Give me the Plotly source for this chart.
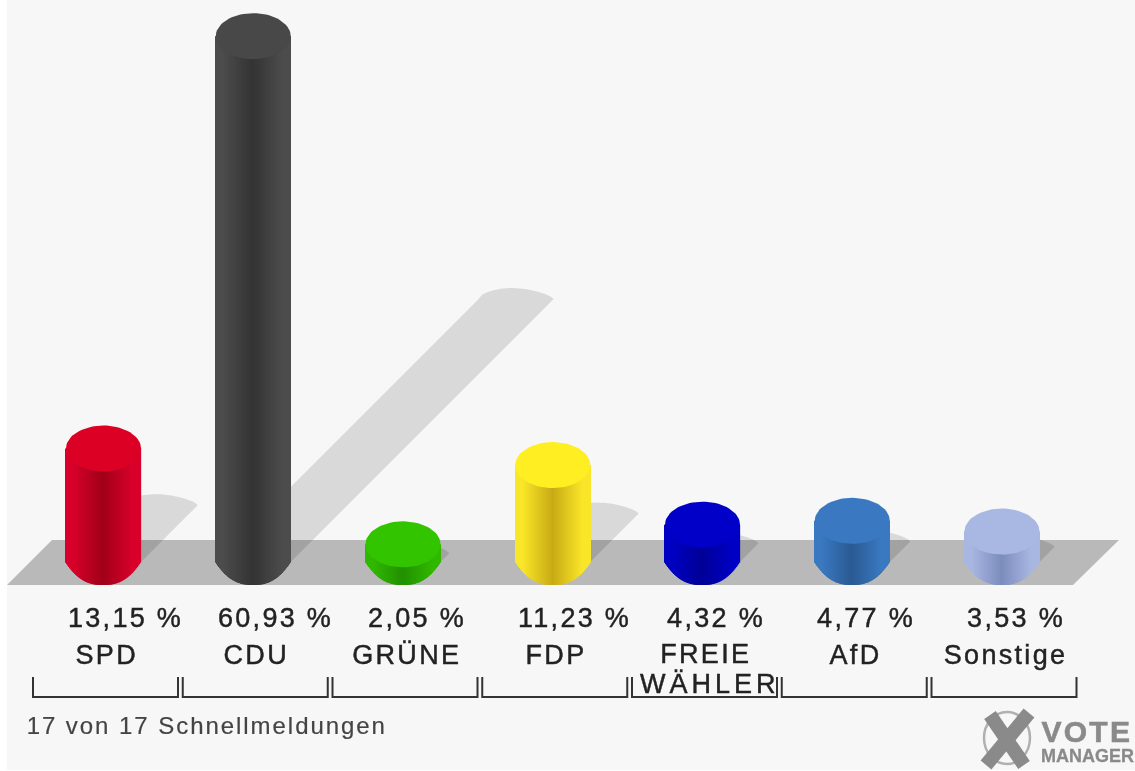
import math
import plotly.graph_objects as go

# ---- data ----
parties = ["SPD", "CDU", "GRÜNE", "FDP", "FREIE<br>WÄHLER", "AfD", "Sonstige"]
values = [13.15, 60.93, 2.05, 11.23, 4.32, 4.77, 3.53]
value_labels = ["13,15 %", "60,93 %", "2,05 %", "11,23 %", "4,32 %", "4,77 %", "3,53 %"]
top_colors = ["#dc0024", "#484848", "#33c400", "#ffee22", "#0000c8", "#3a79c2", "#a9b8e3"]
edge_colors = ["#d8002a", "#4c4c4c", "#30b800", "#fae628", "#0000c4", "#3a78c0", "#a8b6e2"]
dark_colors = ["#a00018", "#333333", "#229000", "#c8aa14", "#000096", "#2a5a94", "#7c8cbc"]
footer = "17 von 17 Schnellmeldungen"

# ---- canvas and scale ----
W, H = 1135, 771
PX_X = 149.75     # px per category
PX_Y = 8.63       # px per percentage point
X0, Y0 = 103.5, 562  # px of first category / of value 0
RX, RY = 37.5 / PX_X, 23 / PX_Y


def dx(px):
    return (px - X0) / PX_X


def dy(px):
    return (Y0 - px) / PX_Y


def hexrgb(h):
    return [int(h[i:i + 2], 16) for i in (1, 3, 5)]


def mix(a, b, t):
    a, b = hexrgb(a), hexrgb(b)
    return "rgb(%d,%d,%d)" % tuple(round(p + (q - p) * t) for p, q in zip(a, b))


fig = go.Figure()
shapes = []

# sheet and floor
shapes.append(dict(type="rect", xref="paper", yref="paper", x0=7 / W, x1=1, y0=1 - 770 / H, y1=1,
                   fillcolor="#f7f7f7", line_width=0, layer="below"))
floor_pts = [(7, 585), (52, 540), (1119, 540), (1073, 585)]
shapes.append(dict(type="path", xref="paper", yref="paper", layer="below",
                   path="M " + " L ".join(f"{x / W:.5f},{1 - y / H:.5f}" for x, y in floor_pts) + " Z",
                   fillcolor="#b9b9b9", line_width=0))

for i, v in enumerate(values):
    # cast shadow: runs along the floor diagonal, half as long as the column
    h_px = v * PX_Y
    shift_x = (h_px * 0.5) / PX_X
    shift_y = v * 0.5
    pts = [(i - RX, 0)]
    n = 24
    for k in range(n + 1):
        t = k / n
        bulge = 11 * math.sin(math.pi * t ** 0.85) ** 0.65 / PX_Y
        pts.append((i - RX + shift_x + 2 * RX * t, shift_y + bulge))
    pts.append((i + RX, 0))
    shapes.append(dict(type="path", xref="x", yref="y", layer="below",
                       path="M " + " L ".join(f"{x:.4f},{y:.4f}" for x, y in pts) + " Z",
                       fillcolor="rgba(0,0,0,0.12)", line_width=0))

    # column body: one-pixel strips shaded towards the middle
    nstrip = 75
    xs, bases, hs, cols = [], [], [], []
    for k in range(nstrip):
        t = (k + 0.5) / nstrip * 2 - 1
        xs.append(i + t * RX)
        b = -RY * (1 - abs(t) ** 2.5)
        bases.append(b)
        hs.append(v - b)
        cols.append(mix(dark_colors[i], edge_colors[i], min(1, abs(t) * 1.25)))
    fig.add_trace(go.Bar(x=xs, y=hs, base=bases, width=2 * RX / nstrip * 1.3,
                         marker=dict(color=cols, line_width=0), hoverinfo="skip", showlegend=False))

    # column top
    ex, ey = [], []
    for k in range(73):
        a = 2 * math.pi * k / 72
        ex.append(i + RX * math.cos(a))
        ey.append(v + RY * math.sin(a))
    fig.add_trace(go.Scatter(x=ex, y=ey, mode="lines", fill="toself", fillcolor=top_colors[i],
                             line=dict(width=0, color=top_colors[i]), hoverinfo="skip", showlegend=False))

# brackets
bx, by = [], []
for i in range(len(parties)):
    l, r = i + (2 - 72.5) / PX_X, i + (2 + 72.5) / PX_X
    bx += [l, l, r, r, None]
    by += [dy(677), dy(697), dy(697), dy(677), None]
fig.add_trace(go.Scatter(x=bx, y=by, mode="lines", line=dict(color="#333333", width=2),
                         hoverinfo="skip", showlegend=False))

# labels
FONT = "Liberation Sans, Arial, sans-serif"
ann = []
for i, (name, lab) in enumerate(zip(parties, value_labels)):
    left_px = X0 + PX_X * i - 37.5
    ann.append(dict(x=dx(left_px + 2 + 8.2 * len(lab)), y=dy(618), text=lab, showarrow=False,
                    font=dict(family=FONT, size=27, color="#222222")))
    lines = name.split("<br>")
    if len(lines) == 1:
        ann.append(dict(x=i + 3.5 / PX_X, y=dy(655), text=name, showarrow=False,
                        font=dict(family=FONT, size=27, color="#222222")))
    else:
        ann.append(dict(x=i + 3.5 / PX_X, y=dy(654), text=lines[0], showarrow=False,
                        font=dict(family=FONT, size=27, color="#222222")))
        ann.append(dict(x=i + 7.5 / PX_X, y=dy(684), text=lines[1], showarrow=False,
                        font=dict(family=FONT, size=27, color="#222222")))
ann.append(dict(x=dx(207), y=dy(725), text=footer, showarrow=False,
                font=dict(family=FONT, size=24, color="#444444")))
ann.append(dict(x=dx(1087), y=dy(731), text="<b>VOTE</b>", showarrow=False,
                font=dict(family=FONT, size=30, color="#8a8a8a")))
ann.append(dict(x=dx(1087), y=dy(756), text="<b>MANAGER</b>", showarrow=False,
                font=dict(family=FONT, size=18, color="#8a8a8a")))


def P(x, y):
    return x / W, 1 - y / H


# logo: ring and cross
x0, y0 = P(984, 712)
x1, y1 = P(1030, 764)
shapes.append(dict(type="circle", xref="paper", yref="paper", x0=x0, y0=y0, x1=x1, y1=y1,
                   line=dict(color="#b0b0b0", width=2.5), fillcolor="rgba(0,0,0,0)", layer="above"))
for (a, b), (c, d) in [((990, 715), (1024, 765)), ((1029, 713), (986, 765))]:
    xa, ya = P(a, b)
    xb, yb = P(c, d)
    shapes.append(dict(type="line", xref="paper", yref="paper", x0=xa, y0=ya, x1=xb, y1=yb,
                       line=dict(color="#8a8a8a", width=14), layer="above"))

fig.update_layout(
    width=W, height=H, margin=dict(l=0, r=0, t=0, b=0), autosize=False,
    paper_bgcolor="#ffffff", plot_bgcolor="rgba(0,0,0,0)",
    barmode="overlay", showlegend=False, shapes=shapes, annotations=ann,
    xaxis=dict(range=[dx(0), dx(W)], visible=False, fixedrange=True),
    yaxis=dict(range=[dy(H), dy(0)], visible=False, fixedrange=True),
)

post = """
document.body.style.margin='0';
document.documentElement.style.overflow='hidden';
document.querySelectorAll('.annotation-text').forEach(function(t){
  var s=t.textContent, ls='2.3px', sw='0.45px';
  if(s.indexOf('Schnell')>=0) {ls='1.95px'; sw='0.2px';}
  if(s==='WÄHLER') ls='4px';
  if(s==='VOTE') {ls='2.2px'; sw='0.6px';}
  if(s==='MANAGER') {ls='0px'; sw='0.3px';}
  t.style.letterSpacing=ls;
  t.style.stroke=t.style.fill;
  t.style.strokeWidth=sw;
});
document.querySelectorAll('.main-svg').forEach(function(s){s.style.filter='blur(0.7px)';});
"""
fig.write_html("out.html", post_script=post, config={"displayModeBar": False})
